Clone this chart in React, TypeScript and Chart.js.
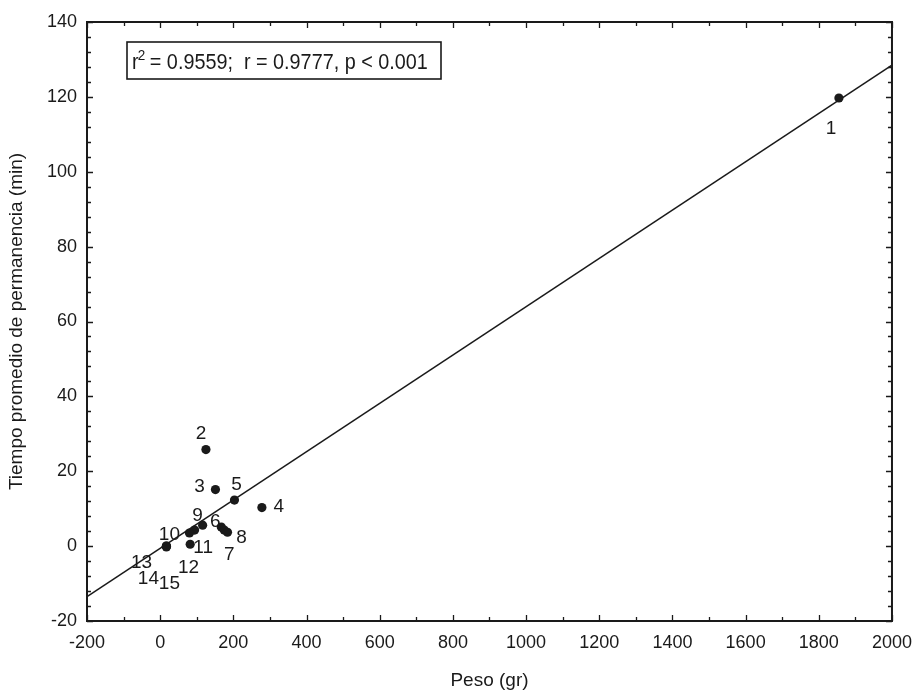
import React, { useEffect, useRef } from "react";
import { Chart, registerables } from "chart.js";

Chart.register(...registerables);

// ---- data ----
const pointIds = ["1", "2", "3", "4", "5", "6", "7", "8", "9", "10", "11", "12", "13", "14", "15"];
const pesoGr = [1855, 125, 151, 278, 203, 167, 175, 184, 116, 17, 82, 94, 80, 17, 17];
const tiempoMin = [119.7, 25.8, 15.1, 10.3, 12.3, 5.1, 4.3, 3.7, 5.6, -0.2, 0.5, 4.3, 3.5, 0, 0];

// fitted regression line (end points read at the plot edges)
const lineX = [-200, 2000];
const lineY = [-13.5, 128.5];

const xTickMin = -200;
const xTickMax = 2000;
const xTickStep = 200;
const xMinorStep = 100;
const yTickMin = -20;
const yTickMax = 140;
const yTickStep = 20;
const yMinorStep = 4;

const xTitle = "Peso (gr)";
const yTitle = "Tiempo promedio de permanencia (min)";
const statsText = " = 0.9559;  r = 0.9777, p < 0.001";

// label placement (pixel offsets from each point, styling only)
const labelDx = [-8, -5, -16, 17, 2, -6, 5, 14, -5, 3, 13, -6, -48, -18, 3];
const labelDy = [31, -16, -3, -1, -15, -5, 25, 5, -9, -12, 4, 38, 30, 33, 38];

const FONT = "'Liberation Sans', Arial, Helvetica, sans-serif";
const INK = "#1a1a1a";

const frameTicksPlugin = {
  id: "frameTicks",
  afterDraw(chart: any) {
    const { ctx, chartArea } = chart;
    const xs = chart.scales.x;
    const ys = chart.scales.y;
    const { left, right, top, bottom } = chartArea;
    ctx.save();
    ctx.strokeStyle = INK;
    ctx.lineWidth = 2;
    ctx.strokeRect(left, top, right - left, bottom - top);
    ctx.lineWidth = 1.3;
    ctx.beginPath();
    for (let v = xTickMin; v <= xTickMax + 1e-9; v += xMinorStep) {
      const major = Math.abs((v - xTickMin) % xTickStep) < 1e-6;
      const len = major ? 6 : 4;
      const px = Math.round(xs.getPixelForValue(v)) + 0.5;
      ctx.moveTo(px, bottom);
      ctx.lineTo(px, bottom - len);
      ctx.moveTo(px, top);
      ctx.lineTo(px, top + len);
    }
    for (let v = yTickMin; v <= yTickMax + 1e-9; v += yMinorStep) {
      const major = Math.abs((v - yTickMin) % yTickStep) < 1e-6;
      const len = major ? 6 : 4;
      const py = Math.round(ys.getPixelForValue(v)) + 0.5;
      ctx.moveTo(left, py);
      ctx.lineTo(left + len, py);
      ctx.moveTo(right, py);
      ctx.lineTo(right - len, py);
    }
    ctx.stroke();
    ctx.restore();
  },
};

const pointLabelsPlugin = {
  id: "pointLabels",
  afterDatasetsDraw(chart: any) {
    const { ctx } = chart;
    const meta = chart.getDatasetMeta(1);
    ctx.save();
    ctx.fillStyle = INK;
    ctx.font = `19px ${FONT}`;
    ctx.textAlign = "center";
    ctx.textBaseline = "middle";
    meta.data.forEach((el: any, i: number) => {
      ctx.fillText(pointIds[i], el.x + labelDx[i], el.y + labelDy[i]);
    });
    ctx.restore();
  },
};

const statsBoxPlugin = {
  id: "statsBox",
  afterDraw(chart: any) {
    const { ctx, chartArea } = chart;
    const bx = chartArea.left + 40;
    const by = chartArea.top + 20;
    const bw = 314;
    const bh = 37;
    ctx.save();
    ctx.strokeStyle = INK;
    ctx.lineWidth = 1.6;
    ctx.fillStyle = "#ffffff";
    ctx.fillRect(bx, by, bw, bh);
    ctx.strokeRect(bx, by, bw, bh);
    ctx.fillStyle = INK;
    ctx.textBaseline = "alphabetic";
    ctx.textAlign = "left";
    const baseY = by + 27;
    const x0 = bx + 5;
    // slightly condensed text, as in the reference
    ctx.translate(x0, baseY);
    ctx.scale(0.9, 1);
    ctx.font = `22px ${FONT}`;
    let x = 0;
    ctx.fillText("r", x, 0);
    x += ctx.measureText("r").width;
    ctx.font = `15px ${FONT}`;
    ctx.fillText("2", x - 1, -9);
    x += ctx.measureText("2").width - 2;
    ctx.font = `22px ${FONT}`;
    ctx.fillText(statsText, x, 0);
    ctx.restore();
  },
};

export default function App() {
  const canvasRef = useRef<HTMLCanvasElement | null>(null);

  useEffect(() => {
    if (!canvasRef.current) return;
    const scatterData = pesoGr.map((x, i) => ({ x, y: tiempoMin[i] }));
    const lineData = lineX.map((x, i) => ({ x, y: lineY[i] }));
    const chart = new Chart(canvasRef.current, {
      type: "scatter",
      data: {
        datasets: [
          {
            type: "line",
            label: "fit",
            data: lineData,
            borderColor: INK,
            borderWidth: 1.6,
            pointRadius: 0,
            fill: false,
            tension: 0,
          } as any,
          {
            type: "scatter",
            label: "obs",
            data: scatterData,
            pointRadius: 4.6,
            pointBackgroundColor: INK,
            pointBorderWidth: 0,
            borderWidth: 0,
          } as any,
        ],
      },
      options: {
        animation: false,
        responsive: false,
        events: [],
        layout: { padding: { top: 22, right: 27, left: 0, bottom: 0 } },
        plugins: {
          legend: { display: false },
          tooltip: { enabled: false },
        },
        scales: {
          x: {
            type: "linear",
            min: xTickMin,
            max: xTickMax,
            grid: { display: false, drawTicks: false },
            border: { display: false },
            ticks: {
              stepSize: xTickStep,
              padding: 11,
              color: INK,
              font: { family: FONT, size: 18 },
              maxRotation: 0,
              autoSkip: false,
              callback: (v: any) => String(v),
            },
            title: {
              display: true,
              text: xTitle,
              color: INK,
              font: { family: FONT, size: 19 },
              padding: { top: 0, bottom: 3 },
            },
            afterFit(s: any) {
              s.height = 74;
            },
          },
          y: {
            type: "linear",
            min: yTickMin,
            max: yTickMax,
            grid: { display: false, drawTicks: false },
            border: { display: false },
            ticks: {
              stepSize: yTickStep,
              padding: 10,
              color: INK,
              font: { family: FONT, size: 18 },
              autoSkip: false,
              callback: (v: any) => String(v),
            },
            title: {
              display: true,
              text: yTitle,
              color: INK,
              font: { family: FONT, size: 19 },
              padding: { top: 5, bottom: 0 },
            },
            afterFit(s: any) {
              s.width = 87;
            },
          },
        },
      },
      plugins: [frameTicksPlugin, pointLabelsPlugin, statsBoxPlugin],
    });
    return () => chart.destroy();
  }, []);

  return (
    <div style={{ position: "absolute", left: 0, top: 0, width: 923, height: 695, background: "#fff" }}>
      <canvas ref={canvasRef} width={923} height={695} style={{ display: "block" }} />
    </div>
  );
}
